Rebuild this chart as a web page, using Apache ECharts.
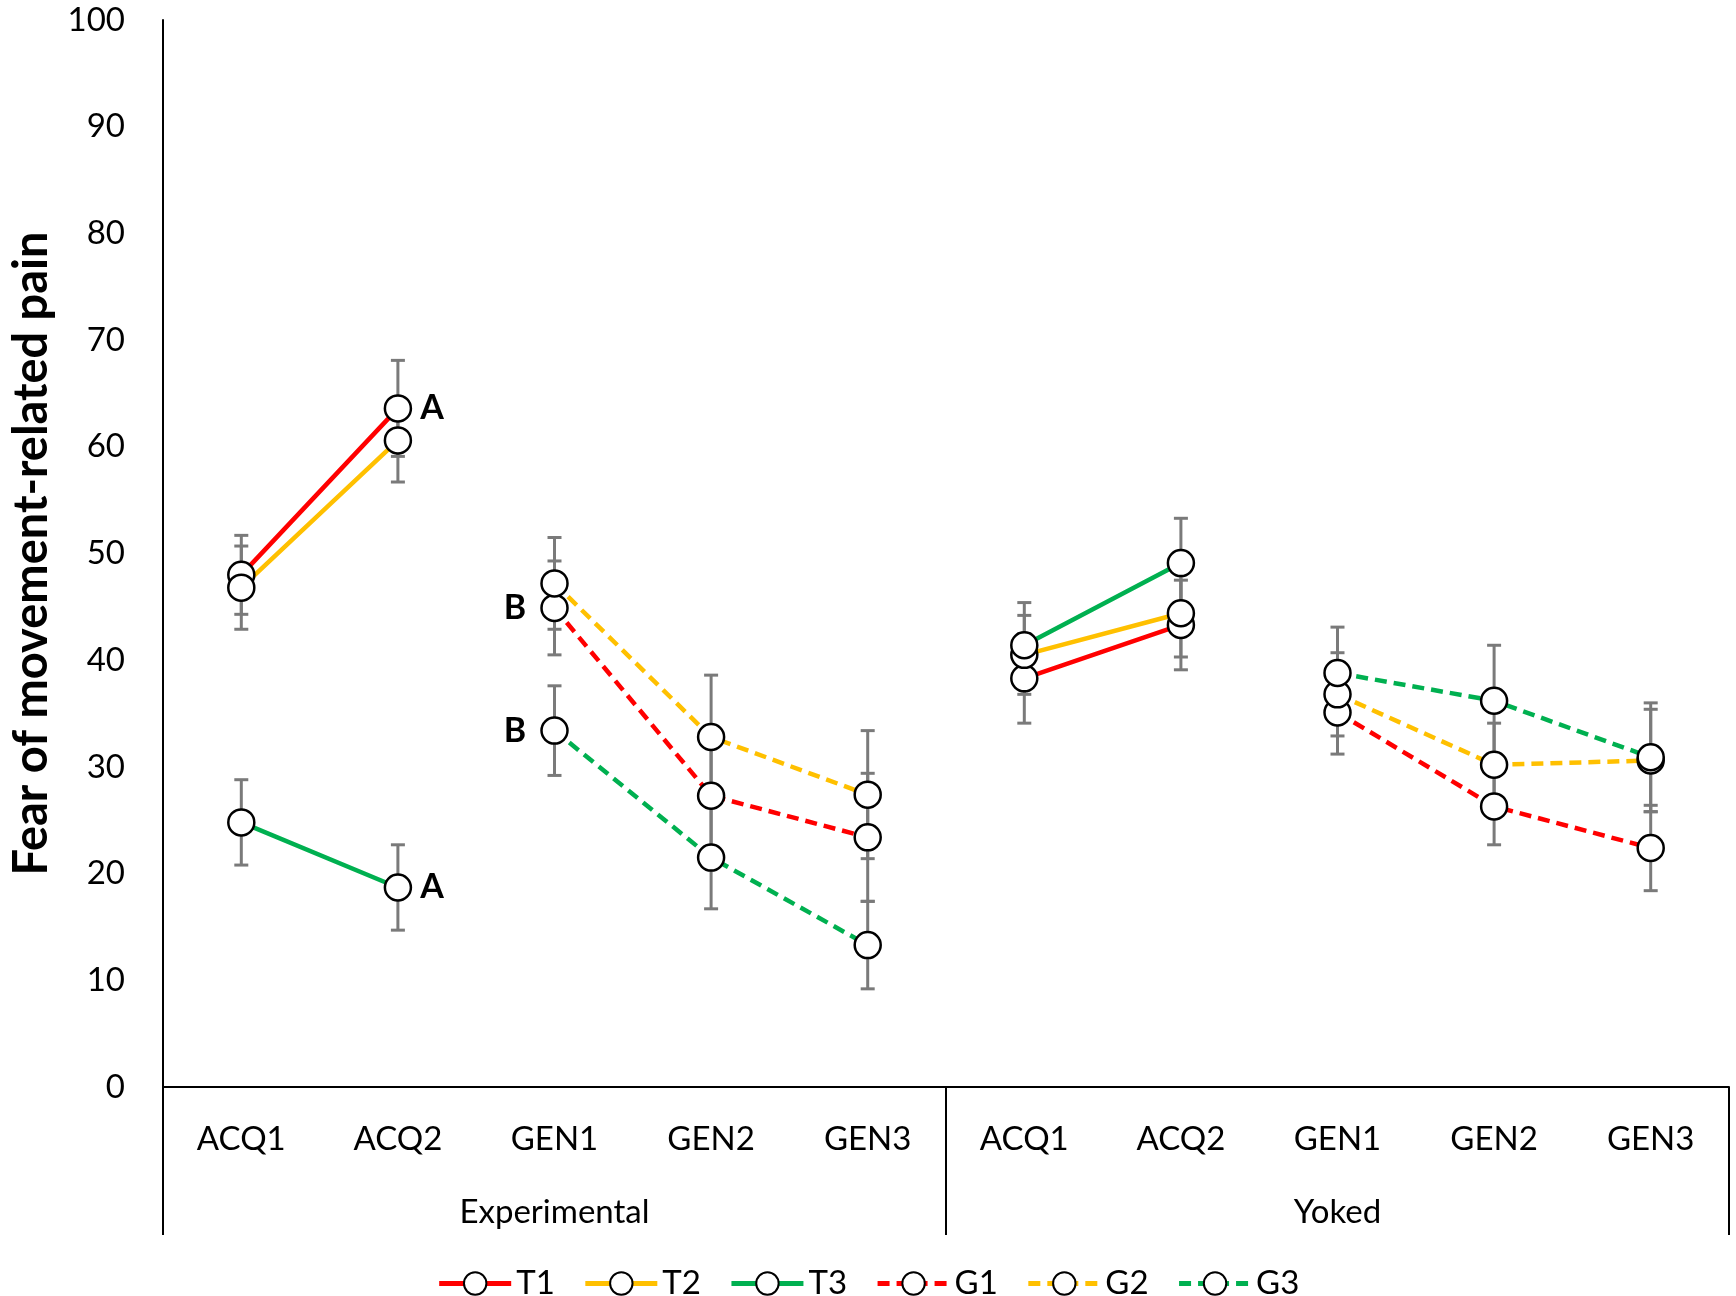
<!DOCTYPE html>
<html>
<head>
<meta charset="utf-8">
<script src="https://cdn.jsdelivr.net/npm/echarts@6/dist/echarts.min.js"></script>
<style>
html,body{margin:0;padding:0;background:#fff;}
#chart{width:1736px;height:1296px;}
</style>
</head>
<body>
<div id="chart"></div>
<script>
const categories = ['ACQ1','ACQ2','GEN1','GEN2','GEN3','ACQ1','ACQ2','GEN1','GEN2','GEN3'];
const groups = ['Experimental','Yoked'];
const yTicks = [0,10,20,30,40,50,60,70,80,90,100];

const T1 = [48.0, 63.6, null, null, null, 38.3, 43.3, null, null, null];
const T2 = [46.8, 60.6, null, null, null, 40.5, 44.4, null, null, null];
const T3 = [24.8, 18.7, null, null, null, 41.4, 49.1, null, null, null];
const G1 = [null, null, 44.9, 27.3, 23.4, null, null, 35.1, 26.3, 22.4];
const G2 = [null, null, 47.2, 32.8, 27.4, null, null, 36.8, 30.2, 30.6];
const G3 = [null, null, 33.4, 21.5, 13.3, null, null, 38.8, 36.2, 30.9];

const T1err = [3.7, 4.5, null, null, null, 4.2, 4.2, null, null, null];
const T2err = [3.9, 3.9, null, null, null, 3.7, 4.1, null, null, null];
const T3err = [4.0, 4.0, null, null, null, 4.0, 4.2, null, null, null];
const G1err = [null, null, 4.4, 5.0, 6.0, null, null, 3.9, 3.6, 4.0];
const G2err = [null, null, 4.3, 5.8, 6.0, null, null, 3.9, 3.9, 4.8];
const G3err = [null, null, 4.2, 4.8, 4.1, null, null, 4.3, 5.2, 5.1];

// annotation letters: [series name, category index, text, side]
const annotations = [
  ['T1', 1, 'A', 'right'],
  ['T3', 1, 'A', 'right'],
  ['G1', 2, 'B', 'left'],
  ['G3', 2, 'B', 'left']
];

const seriesDefs = [
  {name:'T1', values:T1, err:T1err, color:'#FF0000', dashed:false},
  {name:'T2', values:T2, err:T2err, color:'#FFC000', dashed:false},
  {name:'T3', values:T3, err:T3err, color:'#00B050', dashed:false},
  {name:'G1', values:G1, err:G1err, color:'#FF0000', dashed:true},
  {name:'G2', values:G2, err:G2err, color:'#FFC000', dashed:true},
  {name:'G3', values:G3, err:G3err, color:'#00B050', dashed:true}
];

const FONT = 'Lato';

function errRender(params, api) {
  const x = api.value(0);
  const p1 = api.coord([x, api.value(1)]);
  const p2 = api.coord([x, api.value(2)]);
  const hw = 7;
  const style = {stroke:'#7a7a7a', lineWidth:3};
  return {
    type:'group',
    children:[
      {type:'line', shape:{x1:p1[0], y1:p1[1], x2:p2[0], y2:p2[1]}, style:style},
      {type:'line', shape:{x1:p1[0]-hw, y1:p1[1], x2:p1[0]+hw, y2:p1[1]}, style:style},
      {type:'line', shape:{x1:p2[0]-hw, y1:p2[1], x2:p2[0]+hw, y2:p2[1]}, style:style}
    ]
  };
}

const series = [];
seriesDefs.forEach(function(d){
  const errData = [];
  d.values.forEach(function(v, i){
    if (v !== null && d.err[i] !== null) errData.push([i, v - d.err[i], v + d.err[i]]);
  });
  series.push({
    type:'custom', name:d.name + ' err', renderItem:errRender, data:errData,
    z:1, silent:true, encode:{x:0, y:[1,2]}
  });
});
seriesDefs.forEach(function(d){
  const data = d.values.map(function(v, i){
    const ann = annotations.find(function(a){ return a[0] === d.name && a[1] === i; });
    if (ann && v !== null) {
      return {value:v, label:{show:true, formatter:ann[2], position:ann[3], distance: ann[3]==='left' ? 14 : 8,
        fontFamily:FONT, fontWeight:'bold', fontSize:34, color:'#000'}};
    }
    return v;
  });
  series.push({
    type:'line', name:d.name, data:data, z:3,
    connectNulls:false,
    symbol:'circle', symbolSize:26,
    itemStyle:{color:'#ffffff', borderColor:'#000000', borderWidth:2.5},
    lineStyle:{color:d.color, width:4.5, type: d.dashed ? [12, 7] : 'solid', cap:'butt'},
    emphasis:{disabled:true},
    animation:false
  });
});

const chart = echarts.init(document.getElementById('chart'), null, {renderer:'canvas'});
chart.setOption({
  animation:false,
  backgroundColor:'#ffffff',
  grid:{left:163, right:7, top:20, bottom:209, containLabel:false},
  legend:{
    data:seriesDefs.map(function(d){return d.name;}),
    top:1262, left:'center',
    itemWidth:72, itemHeight:28, itemGap:28,
    lineStyle:{width:5},
    textStyle:{fontFamily:FONT, fontSize:33, color:'#000'}
  },
  xAxis:[
    {
      type:'category', data:categories, position:'bottom', boundaryGap:true,
      axisLine:{show:true, lineStyle:{color:'#000', width:2}},
      axisTick:{show:false},
      axisLabel:{interval:0, margin:36, fontFamily:FONT, fontSize:33, color:'#000'},
      splitLine:{show:false}
    },
    {
      type:'category', data:groups, position:'bottom', boundaryGap:true,
      axisLine:{show:false},
      axisTick:{show:true, length:148, inside:false, lineStyle:{color:'#000', width:2}},
      axisLabel:{interval:0, margin:109, fontFamily:FONT, fontSize:33, color:'#000'},
      splitLine:{show:false}
    }
  ],
  yAxis:{
    type:'value', min:0, max:100, interval:10,
    axisLine:{show:true, lineStyle:{color:'#000', width:2}},
    axisTick:{show:false},
    splitLine:{show:false},
    axisLabel:{margin:38, fontFamily:FONT, fontSize:33, color:'#000',
      formatter:function(v){ return yTicks.indexOf(v) >= 0 ? String(v) : ''; }},
    name:'Fear of movement-related pain', nameLocation:'middle', nameGap:108,
    nameTextStyle:{fontFamily:FONT, fontWeight:'bold', fontSize:47, color:'#000'}
  },
  series:series
});
</script>
</body>
</html>
